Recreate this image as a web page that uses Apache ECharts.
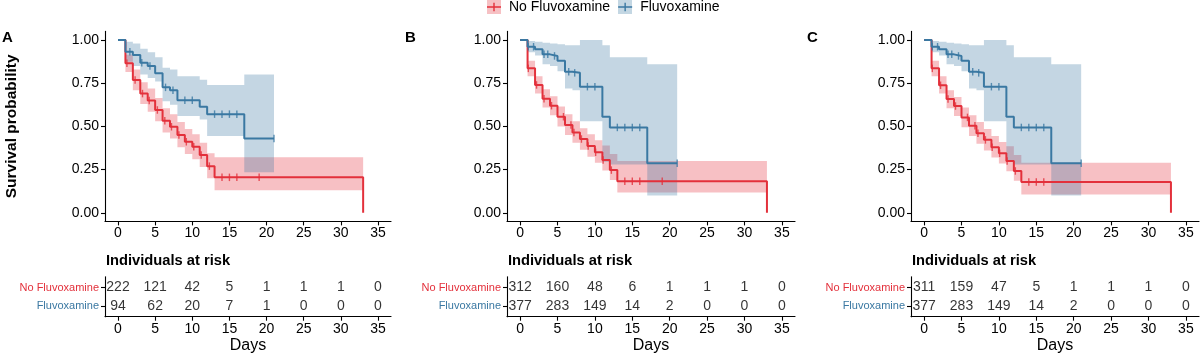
<!DOCTYPE html>
<html>
<head>
<meta charset="utf-8">
<script src="https://cdn.jsdelivr.net/npm/echarts@6/dist/echarts.min.js"></script>
<style>
  html, body { margin: 0; padding: 0; background: #fff; }
  #chart { width: 1200px; height: 354px; }
</style>
</head>
<body>
<div id="chart"></div>
<script>
// tick labels
const days = [0, 5, 10, 15, 20, 25, 30, 35];
const yTicks = [0, 0.25, 0.5, 0.75, 1];

// ---- panel A ----
const aRedTime = [0, 1, 2, 3, 4, 5, 6, 7, 8, 9, 10, 11, 12, 13, 33];
const aRedSurv = [1, 0.865, 0.768, 0.69, 0.65, 0.595, 0.533, 0.498, 0.45, 0.411, 0.382, 0.334, 0.27, 0.205, 0];
const aRedUp   = [1, 0.915, 0.83, 0.755, 0.72, 0.665, 0.605, 0.57, 0.525, 0.485, 0.455, 0.405, 0.345, 0.322, 0.322];
const aRedLow  = [1, 0.815, 0.71, 0.63, 0.585, 0.53, 0.465, 0.43, 0.38, 0.34, 0.31, 0.265, 0.2, 0.13, 0.13];
const aRedCens = [1.2, 2.3, 3.3, 4.2, 5.3, 6.3, 7.2, 8.2, 9.2, 10.2, 11.2, 12.3, 14, 15, 16, 19];
const aBlueTime = [0, 1, 2, 3, 4, 5, 6, 7, 8, 11, 12, 17, 21];
const aBlueSurv = [1, 0.932, 0.913, 0.869, 0.85, 0.807, 0.726, 0.71, 0.652, 0.614, 0.571, 0.43, 0.43];
const aBlueUp   = [1, 0.99, 0.98, 0.95, 0.93, 0.9, 0.84, 0.83, 0.79, 0.77, 0.74, 0.8, 0.8];
const aBlueLow  = [1, 0.875, 0.85, 0.8, 0.78, 0.76, 0.645, 0.625, 0.56, 0.54, 0.445, 0.235, 0.235];
const aBlueCens = [1.6, 3.2, 4.3, 6.4, 7.4, 9, 10, 13, 14, 15, 16, 21];
const aRiskNo  = [222, 121, 42, 5, 1, 1, 1, 0];
const aRiskFlu = [94, 62, 20, 7, 1, 0, 0, 0];

// ---- panel B ----
const bRedTime = [0, 1, 2, 3, 4, 5, 6, 7, 8, 9, 10, 11, 12, 13, 33];
const bRedSurv = [1, 0.836, 0.74, 0.66, 0.62, 0.556, 0.508, 0.465, 0.427, 0.386, 0.35, 0.305, 0.247, 0.183, 0];
const bRedUp   = [1, 0.88, 0.79, 0.715, 0.675, 0.615, 0.57, 0.53, 0.49, 0.455, 0.42, 0.39, 0.34, 0.3, 0.3];
const bRedLow  = [1, 0.79, 0.69, 0.61, 0.565, 0.5, 0.45, 0.405, 0.365, 0.325, 0.29, 0.245, 0.19, 0.118, 0.118];
const bRedCens = [1.1, 2.2, 3.2, 4.2, 5.8, 6.8, 7.2, 8.2, 9.1, 10.1, 11.1, 12.2, 14, 15, 16, 19];
const bBlueTime = [0, 1, 2, 3, 4, 5, 6, 7, 8, 11, 12, 17, 21];
const bBlueSurv = [1, 0.961, 0.946, 0.917, 0.908, 0.88, 0.817, 0.81, 0.73, 0.556, 0.494, 0.286, 0.286];
const bBlueUp   = [1, 0.995, 0.99, 0.985, 0.98, 0.975, 0.97, 0.97, 1, 0.97, 0.9, 0.86, 0.86];
const bBlueLow  = [1, 0.93, 0.91, 0.86, 0.85, 0.82, 0.72, 0.71, 0.53, 0.295, 0.28, 0.1, 0.1];
const bBlueCens = [1.1, 1.8, 3.2, 3.7, 4.6, 6.5, 7.3, 9, 10, 13, 14, 15, 16, 21];
const bRiskNo  = [312, 160, 48, 6, 1, 1, 1, 0];
const bRiskFlu = [377, 283, 149, 14, 2, 0, 0, 0];

// ---- panel C ----
const cRedTime = [0, 1, 2, 3, 4, 5, 6, 7, 8, 9, 10, 11, 12, 13, 33];
const cRedSurv = [1, 0.836, 0.738, 0.658, 0.618, 0.552, 0.504, 0.46, 0.422, 0.38, 0.344, 0.3, 0.242, 0.178, 0];
const cRedUp   = [1, 0.88, 0.79, 0.71, 0.67, 0.61, 0.565, 0.525, 0.485, 0.445, 0.41, 0.385, 0.335, 0.29, 0.29];
const cRedLow  = [1, 0.79, 0.69, 0.605, 0.56, 0.495, 0.445, 0.4, 0.36, 0.32, 0.285, 0.24, 0.185, 0.106, 0.106];
const cRedCens = [1.1, 2.2, 3.2, 4.2, 5.8, 6.8, 7.2, 8.2, 9.1, 10.1, 11.1, 12.2, 14, 15, 16];
const cBlueTime = [0, 1, 2, 3, 4, 5, 6, 7, 8, 11, 12, 17, 21];
const cBlueSurv = [1, 0.961, 0.946, 0.917, 0.908, 0.88, 0.817, 0.81, 0.73, 0.556, 0.494, 0.286, 0.286];
const cBlueUp   = [1, 0.995, 0.99, 0.985, 0.98, 0.975, 0.97, 0.97, 1, 0.97, 0.9, 0.86, 0.86];
const cBlueLow  = [1, 0.93, 0.91, 0.86, 0.85, 0.82, 0.72, 0.71, 0.53, 0.295, 0.28, 0.1, 0.1];
const cBlueCens = [1.1, 1.8, 3.2, 3.7, 4.6, 6.5, 7.3, 9, 10, 13, 14, 15, 16, 21];
const cRiskNo  = [311, 159, 47, 5, 1, 1, 1, 0];
const cRiskFlu = [377, 283, 149, 14, 2, 0, 0, 0];

const FONT = 'Liberation Sans, Arial, Helvetica, sans-serif';
const RED = '#E3303B';
const BLUE = '#3A78A2';
const lefts = [105, 507, 911];
const widths = [286, 288, 288];
const letters = ['A', 'B', 'C'];
const crossIcon = 'path://M0,0h0.01v0.01h-0.01z M13.99,13.99h0.01v0.01h-0.01z M0,6.3H14V7.7H0Z M6.3,2.8H7.7V11.2H6.3Z';

const panels = [
  { red: { t: aRedTime, s: aRedSurv, up: aRedUp, lo: aRedLow, c: aRedCens },
    blue: { t: aBlueTime, s: aBlueSurv, up: aBlueUp, lo: aBlueLow, c: aBlueCens },
    riskNo: aRiskNo, riskFlu: aRiskFlu },
  { red: { t: bRedTime, s: bRedSurv, up: bRedUp, lo: bRedLow, c: bRedCens },
    blue: { t: bBlueTime, s: bBlueSurv, up: bBlueUp, lo: bBlueLow, c: bBlueCens },
    riskNo: bRiskNo, riskFlu: bRiskFlu },
  { red: { t: cRedTime, s: cRedSurv, up: cRedUp, lo: cRedLow, c: cRedCens },
    blue: { t: cBlueTime, s: cBlueSurv, up: cBlueUp, lo: cBlueLow, c: cBlueCens },
    riskNo: cRiskNo, riskFlu: cRiskFlu }
];

// survival value of the KM step curve at time x
function stepAt(t, s, x) {
  let v = s[0];
  for (let i = 0; i < t.length; i++) if (t[i] <= x) v = s[i];
  return v;
}

// confidence band as one step polygon, placed with the axes' own scale
function bandRenderer(c, color) {
  return function (params, api) {
    if (params.dataIndex !== 0) return null;
    const top = [], bot = [];
    for (let k = 0; k < c.t.length - 1; k++) {
      top.push(api.coord([c.t[k], c.up[k]]), api.coord([c.t[k + 1], c.up[k]]));
      bot.push(api.coord([c.t[k], c.lo[k]]), api.coord([c.t[k + 1], c.lo[k]]));
    }
    return {
      type: 'polygon',
      shape: { points: top.concat(bot.reverse()) },
      style: { fill: color, opacity: 0.3 }
    };
  };
}

const grid = [], xAxis = [], yAxis = [], series = [], title = [];
const axisCol = { color: '#000', width: 1.1 };

panels.forEach((p, i) => {
  const L = lefts[i], W = widths[i];
  const gp = 2 * i, gr = 2 * i + 1;
  grid.push({ left: L, top: 31.4, width: W, height: 190, outerBoundsMode: 'none' });
  grid.push({ left: L, top: 276.7, width: W, height: 40, outerBoundsMode: 'none' });

  const xa = (gi, extra) => Object.assign({
    gridIndex: gi, type: 'value', min: -1.75, max: 36.75,
    axisLine: { onZero: false, lineStyle: axisCol },
    axisTick: { show: true, customValues: days, length: 4, lineStyle: axisCol },
    axisLabel: { customValues: days, color: '#000', fontSize: 14, margin: 5, fontFamily: FONT },
    splitLine: { show: false }
  }, extra);
  xAxis.push(xa(gp, {}));
  xAxis.push(xa(gr, {
    name: 'Days', nameLocation: 'middle', nameGap: 21,
    nameTextStyle: { color: '#000', fontSize: 16, fontFamily: FONT }
  }));

  yAxis.push({
    gridIndex: gp, type: 'value', min: -0.05, max: 1.05,
    axisLine: { show: true, onZero: false, lineStyle: axisCol },
    axisTick: { show: true, customValues: yTicks, length: 4, lineStyle: axisCol },
    axisLabel: { customValues: yTicks, formatter: v => v.toFixed(2), color: '#000', fontSize: 14, margin: 6, fontFamily: FONT },
    splitLine: { show: false },
    name: i === 0 ? 'Survival probability' : '',
    nameLocation: 'middle', nameGap: 85,
    nameTextStyle: { color: '#000', fontSize: 15.5, fontWeight: 'bold', fontFamily: FONT }
  });
  yAxis.push({
    gridIndex: gr, type: 'value', min: 0.4, max: 2.6,
    axisLine: { show: true, onZero: false, lineStyle: axisCol },
    axisTick: { show: true, customValues: [1, 2], length: 4, lineStyle: axisCol },
    axisLabel: {
      customValues: [1, 2], margin: 6,
      formatter: v => (v === 2 ? '{r|No Fluvoxamine}' : '{b|Fluvoxamine}'),
      rich: {
        r: { color: RED, fontSize: 11, fontFamily: FONT },
        b: { color: BLUE, fontSize: 11, fontFamily: FONT }
      }
    },
    splitLine: { show: false }
  });

  title.push({ text: letters[i], left: [2, 405, 807][i], top: 30, padding: 0,
    textStyle: { fontSize: 15, fontWeight: 'bold', color: '#000', fontFamily: FONT } });
  title.push({ text: 'Individuals at risk', left: L + 1, top: 253, padding: 0,
    textStyle: { fontSize: 14.7, fontWeight: 'bold', color: '#000', fontFamily: FONT } });

  const addBand = (c, color) => {
    series.push({
      type: 'custom', xAxisIndex: gp, yAxisIndex: gp, clip: true, silent: true, z: 1,
      data: c.t.map((x, k) => [x, c.lo[k], c.up[k]]),
      renderItem: bandRenderer(c, color)
    });
  };
  addBand(p.red, RED);
  addBand(p.blue, BLUE);

  const addLine = (c, name, color) => {
    series.push({
      type: 'line', name: name, xAxisIndex: gp, yAxisIndex: gp, step: 'end',
      data: c.t.map((x, k) => [x, c.s[k]]), symbol: 'none', showSymbol: false,
      lineStyle: { color: color, width: 2 }, itemStyle: { color: color }, silent: true, z: 3
    });
    series.push({
      type: 'scatter', xAxisIndex: gp, yAxisIndex: gp,
      data: c.c.map(x => [x, stepAt(c.t, c.s, x)]),
      symbol: 'rect', symbolSize: [1.4, 7.5], itemStyle: { color: color }, silent: true, z: 4
    });
  };
  addLine(p.red, 'No Fluvoxamine', RED);
  addLine(p.blue, 'Fluvoxamine', BLUE);

  const addRisk = (vals, row) => {
    series.push({
      type: 'scatter', xAxisIndex: gr, yAxisIndex: gr,
      data: days.map((d, k) => [d, row, vals[k]]),
      symbolSize: 1, itemStyle: { color: 'rgba(0,0,0,0)' }, silent: true,
      label: { show: true, position: 'inside', formatter: q => String(q.value[2]),
        color: '#000', fontSize: 14, fontFamily: FONT }
    });
  };
  addRisk(p.riskNo, 2);
  addRisk(p.riskFlu, 1);
});

const chart = echarts.init(document.getElementById('chart'));
chart.setOption({
  animation: false,
  backgroundColor: '#fff',
  textStyle: { fontFamily: FONT },
  title: title,
  legend: {
    left: 487, top: 0, padding: 0, itemWidth: 14, itemHeight: 14, itemGap: 8,
    selectedMode: false,
    data: [{ name: 'No Fluvoxamine', icon: crossIcon }, { name: 'Fluvoxamine', icon: crossIcon }],
    textStyle: { fontSize: 14, color: '#000', fontFamily: FONT, padding: [0, 0, 0, 3] }
  },
  graphic: [
    { type: 'rect', left: 487, top: 0, shape: { width: 14, height: 14 }, style: { fill: '#F6C1C4' }, z: 0 },
    { type: 'rect', left: 618, top: 0, shape: { width: 14, height: 14 }, style: { fill: '#C4D7E3' }, z: 0 }
  ],
  grid: grid,
  xAxis: xAxis,
  yAxis: yAxis,
  series: series
});
</script>
</body>
</html>
